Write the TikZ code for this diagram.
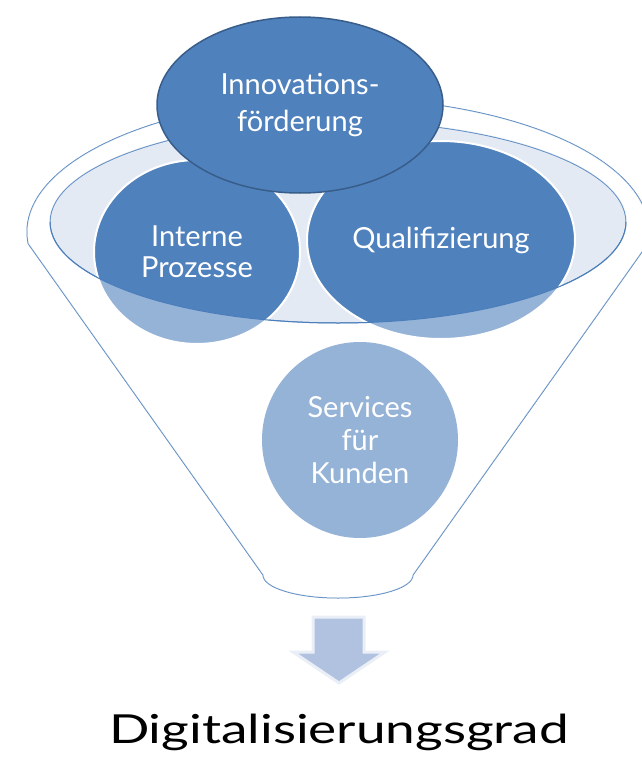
\documentclass[tikz,border=0pt]{standalone}
\usepackage{fontspec}
\setmainfont{Lato}
\newfontfamily\widefont[FakeStretch=1.33]{Lato}
\usetikzlibrary{shapes.geometric}
\definecolor{funnelblue}{HTML}{4F81BD}
\definecolor{funnelline}{HTML}{4A7EBB}
\definecolor{topborder}{HTML}{385D8A}
\definecolor{rimfill}{HTML}{E4EAF4}
\definecolor{arrowfill}{HTML}{B0C2DF}
\definecolor{arrowglow}{HTML}{EAEFF7}
\newcommand{\funnelpath}{(28.2,243.7) arc[start angle=175, end angle=365, x radius=311, y radius=134]
  -- (413,575) arc[start angle=0, end angle=180, x radius=75, y radius=23] -- cycle}
\begin{document}
\begin{tikzpicture}[x=1pt, y=-1pt,
  bubble/.style={ellipse, fill=funnelblue, draw=white, line width=2pt, text=white,
    align=center, inner sep=0pt, font=\fontsize{29}{31}\selectfont},
  rimline/.style={draw=funnelline, line width=1pt}]
\useasboundingbox (0,0) rectangle (641,768);
\draw[rimline, fill=white] \funnelpath;
\draw[rimline, fill=rimfill] (338,222) ellipse [x radius=288, y radius=101];
\node[bubble, minimum width=206pt, minimum height=184pt] (intern) at (197,252) {Interne\\Prozesse};
\node[bubble, minimum width=268pt, minimum height=198pt] (quali) at (441,240) {Qualifizierung};
\node[bubble, draw=none, minimum width=196pt, minimum height=196pt,
  font=\fontsize{29}{33}\selectfont] (service) at (360,440) {Services\\f\"ur\\Kunden};
% front of the funnel
\fill[white, opacity=0.4, even odd rule] \funnelpath (338,222) ellipse [x radius=288, y radius=101];
\draw[rimline] (626,222) arc[start angle=0, end angle=180, x radius=288, y radius=101];
\node[bubble, draw=topborder, line width=1.5pt, minimum width=286pt, minimum height=176pt,
  font=\fontsize{29}{37}\selectfont] (innov) at (300,105) {Innovations-\\f\"orderung};
% output arrow
\draw[draw=arrowglow, line width=3pt, fill=arrowfill] (313,617) -- (364,617) -- (364,652)
  -- (385,652) -- (339,683) -- (293,652) -- (313,652) -- cycle;
\node[anchor=base, inner sep=0pt, font=\widefont\fontsize{40}{48}\selectfont] (grad) at (339,743) {Digitalisierungsgrad};
\end{tikzpicture}
\end{document}
